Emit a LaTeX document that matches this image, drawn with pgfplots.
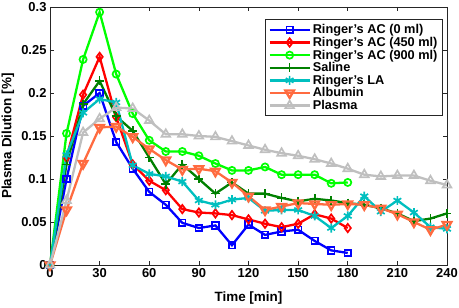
\documentclass[border=0pt]{standalone}
\usepackage{pgfplots}
\pgfplotsset{compat=1.18}
\usepackage{fontspec}
\setmainfont{Liberation Sans}
\definecolor{cBlue}{rgb}{0,0,1}
\definecolor{cRed}{rgb}{1,0,0}
\definecolor{cLime}{rgb}{0,1,0}
\definecolor{cDGreen}{rgb}{0,0.5,0}
\definecolor{cCyan}{rgb}{0,0.75,0.75}
\definecolor{cOrange}{rgb}{1,0.42,0.25}
\definecolor{cGray}{rgb}{0.75,0.75,0.75}
\tikzset{ser/.style={line width=2.3pt, mark options={solid, fill=none, line width=1.7pt}}}
\begin{document}
\begin{tikzpicture}
\begin{axis}[
  at={(0,0)}, anchor=south west,
  scale only axis, width=397bp, height=258bp,
  xmin=0, xmax=240, ymin=0, ymax=0.3,
  xtick={0,30,...,240},
  ytick={0,0.05,0.1,0.15,0.2,0.25,0.3},
  yticklabels={0,0.05,0.1,0.15,0.2,0.25,0.3},
  xticklabels={0,30,60,90,120,150,180,210,240},
  tick align=inside, tick pos=both,
  major tick length=4bp,
  axis line style={black!85, line width=0.7pt},
  every tick/.style={black!85, line width=0.7pt},
  tick label style={font=\fontsize{13}{15}\selectfont\bfseries},
  xlabel={Time [min]}, ylabel={Plasma Dilution [\%]},
  label style={font=\fontsize{13.5}{15}\selectfont\bfseries},
  xlabel style={at={(axis description cs:0.5,-0.128)}, anchor=center},
  ylabel style={at={(axis description cs:-0.106,0.5)}, anchor=center, rotate=0},
  legend cell align=left,
  legend style={at={(axis description cs:0.989,0.952)}, anchor=north east,
    font=\fontsize{12.8}{14}\selectfont\bfseries, draw=black!85, line width=0.7pt,
    row sep=-2.1bp, inner sep=2.8bp},
  legend image code/.code={\draw[mark repeat=2,mark phase=2] plot coordinates {(0bp,0bp) (20bp,0bp) (40bp,0bp)};},
]
\addplot[ser, cBlue, mark=square, mark size=3.3pt] coordinates {
(0,0) (10,0.100) (20,0.185) (30,0.200) (40,0.143) (50,0.112) (60,0.085) (70,0.070) (80,0.049) (90,0.043) (100,0.046) (110,0.023) (120,0.047) (130,0.035) (140,0.039) (150,0.041) (160,0.028) (170,0.017) (180,0.014)};
\addlegendentry{Ringer’s AC (0 ml)}
\addplot[ser, cRed, mark=diamond, mark size=4.2pt] coordinates {
(0,0) (10,0.125) (20,0.198) (30,0.242) (40,0.172) (50,0.117) (60,0.098) (70,0.087) (80,0.065) (90,0.061) (100,0.060) (110,0.058) (120,0.053) (130,0.048) (140,0.044) (150,0.048) (160,0.059) (170,0.054) (180,0.043)};
\addlegendentry{Ringer’s AC (450 ml)}
\addplot[ser, cLime, mark=o, mark size=3.6pt] coordinates {
(0,0) (10,0.153) (20,0.239) (30,0.294) (40,0.222) (50,0.176) (60,0.145) (70,0.132) (80,0.132) (90,0.127) (100,0.118) (110,0.110) (120,0.110) (130,0.114) (140,0.105) (150,0.105) (160,0.105) (170,0.095) (180,0.096)};
\addlegendentry{Ringer’s AC (900 ml)}
\addplot[ser, cDGreen, mark=+, mark size=4.5pt] coordinates {
(0,0) (10,0.117) (20,0.187) (30,0.214) (40,0.173) (50,0.156) (60,0.125) (70,0.094) (80,0.117) (90,0.100) (100,0.083) (110,0.096) (120,0.083) (130,0.083) (140,0.078) (150,0.074) (160,0.077) (170,0.075) (180,0.072) (190,0.070) (200,0.066) (210,0.060) (220,0.051) (230,0.054) (240,0.060)};
\addlegendentry{Saline}
\addplot[ser, cCyan, mark=asterisk, mark size=4.5pt] coordinates {
(0,0) (10,0.128) (20,0.177) (30,0.193) (40,0.189) (50,0.116) (60,0.106) (70,0.103) (80,0.097) (90,0.075) (100,0.070) (110,0.076) (120,0.078) (130,0.063) (140,0.064) (150,0.064) (160,0.057) (170,0.043) (180,0.057) (190,0.080) (200,0.062) (210,0.075) (220,0.061) (230,0.044) (240,0.042)};
\addlegendentry{Ringer’s LA}
\addplot[ser, cOrange, mark=triangle, mark options={rotate=180}, mark size=5pt] coordinates {
(0,0) (10,0.064) (20,0.118) (30,0.160) (40,0.161) (50,0.149) (60,0.135) (70,0.122) (80,0.111) (90,0.112) (100,0.109) (110,0.096) (120,0.080) (130,0.064) (140,0.068) (150,0.072) (160,0.071) (170,0.070) (180,0.071) (190,0.070) (200,0.066) (210,0.059) (220,0.050) (230,0.041) (240,0.047)};
\addlegendentry{Albumin}
\addplot[ser, cGray, mark=triangle, mark size=5pt] coordinates {
(0,0) (10,0.075) (20,0.154) (30,0.170) (40,0.183) (50,0.182) (60,0.168) (70,0.152) (80,0.152) (90,0.150) (100,0.149) (110,0.144) (120,0.139) (130,0.134) (140,0.130) (150,0.127) (160,0.123) (170,0.118) (180,0.112) (190,0.105) (200,0.103) (210,0.104) (220,0.104) (230,0.098) (240,0.093)};
\addlegendentry{Plasma}
\end{axis}
\pgfresetboundingbox
\path[use as bounding box] (-50bp,-43bp) rectangle (409bp,265bp);
\end{tikzpicture}
\end{document}
